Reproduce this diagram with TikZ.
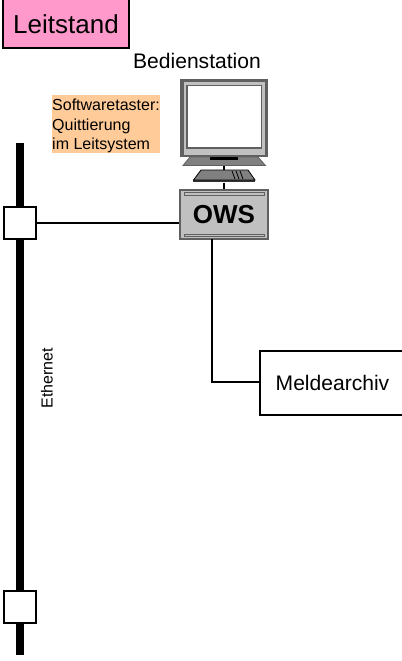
\documentclass[tikz,border=0pt]{standalone}
\usepackage{fontspec}
\setmainfont{Liberation Sans}
\definecolor{leitpink}{HTML}{FF99CC}
\definecolor{noteorange}{HTML}{FFCC99}
\definecolor{devgrey}{HTML}{C0C0C0}
\definecolor{darkgrey}{HTML}{606060}
\begin{document}
\begin{tikzpicture}[
    x=0.75pt, y=-0.75pt,
    box/.style={rectangle, draw=black, line width=1.2pt, inner sep=0pt, align=center},
    port/.style={box, fill=white, minimum width=24pt, minimum height=24pt},
    link/.style={draw=black, line width=1.2pt},
    neck/.style={draw=black, line width=2.2pt},
    part/.style={draw=darkgrey, line width=0.6pt}
]
\useasboundingbox (0,0) rectangle (402,661);
\clip (0,0) rectangle (402,661);

% Titles
\node[box, fill=leitpink, minimum width=94.5pt, minimum height=39pt, text height=17pt, text depth=0pt, font=\fontsize{19.5}{22}\selectfont] (leitstand) at (66,22) {Leitstand};
\node[inner sep=0pt, font=\fontsize{15.8}{18}\selectfont] (station) at (197,61) {Bedienstation};
\node[fill=noteorange, inner sep=0pt, minimum width=81pt, minimum height=43.5pt, align=left, font=\fontsize{12}{14.6}\selectfont] (note) at (106,124) {\rule{0pt}{12pt}Softwaretaster:\\Quittierung\\im Leitsystem};

% Ethernet bus
\coordinate (bustop) at (20,143);
\coordinate (busbottom) at (20,655);
\draw[line width=6pt] (bustop) -- (busbottom);
\node[rotate=90, inner sep=0pt, font=\fontsize{12}{14}\selectfont] (ethernet) at (47,378) {Ethernet};
\node[port] (porta) at (20,223) {};
\node[port] (portb) at (20,607) {};

% Monitor
\node[part, line width=1pt, fill=darkgrey, minimum width=65pt, minimum height=57.5pt, inner sep=0pt] (monitor) at (224,118) {};
\fill[devgrey] (183.5,82) rectangle (265,155);
\draw[part, fill=white, line width=0.9pt] (187,85.5) rectangle (261.5,148);
\draw[part, fill=gray] (183,165.5) -- (190,157) -- (258,157) -- (265.5,165.5) -- cycle;
\fill[black] (210,157) rectangle (238,159.5);
\coordinate (standfoot) at (224,165.5);

% Keyboard
\node[inner sep=0pt, minimum width=46pt, minimum height=2pt, fill=black!80] (keys) at (224,181) {};
\draw[part, draw=black, fill=gray] (193.5,180) -- (201,170) -- (248,170) -- (255,180) -- cycle;
\draw[line width=0.6pt] (232,171) -- (235,179) (236,171) -- (239,179) (240,171) -- (243,179);
\coordinate (keystop) at (224,170);

% Station
\node[box, draw=darkgrey, fill=devgrey, minimum width=66pt, minimum height=36.5pt, font=\bfseries\fontsize{19.5}{22}\selectfont] (ows) at (224,214.5) {OWS};
\draw[part, fill=devgrey] (184,192.5) rectangle (264,195);
\draw[part, fill=devgrey] (184,234) rectangle (264,236.5);
\draw[neck] (standfoot) -- (keystop);
\draw[neck] (keys.south) -- (ows.north);

% Archive
\node[box, minimum width=108.75pt, minimum height=48pt, font=\fontsize{15.8}{18}\selectfont] (archiv) at (332.5,383) {Meldearchiv};

% Connections
\coordinate (owsdown) at (212,239);
\coordinate (corner) at (212,382);
\draw[link] (porta) -- (ows.west |- porta);
\draw[link] (owsdown) -- (corner) -- (archiv.west |- corner);

\end{tikzpicture}
\end{document}
